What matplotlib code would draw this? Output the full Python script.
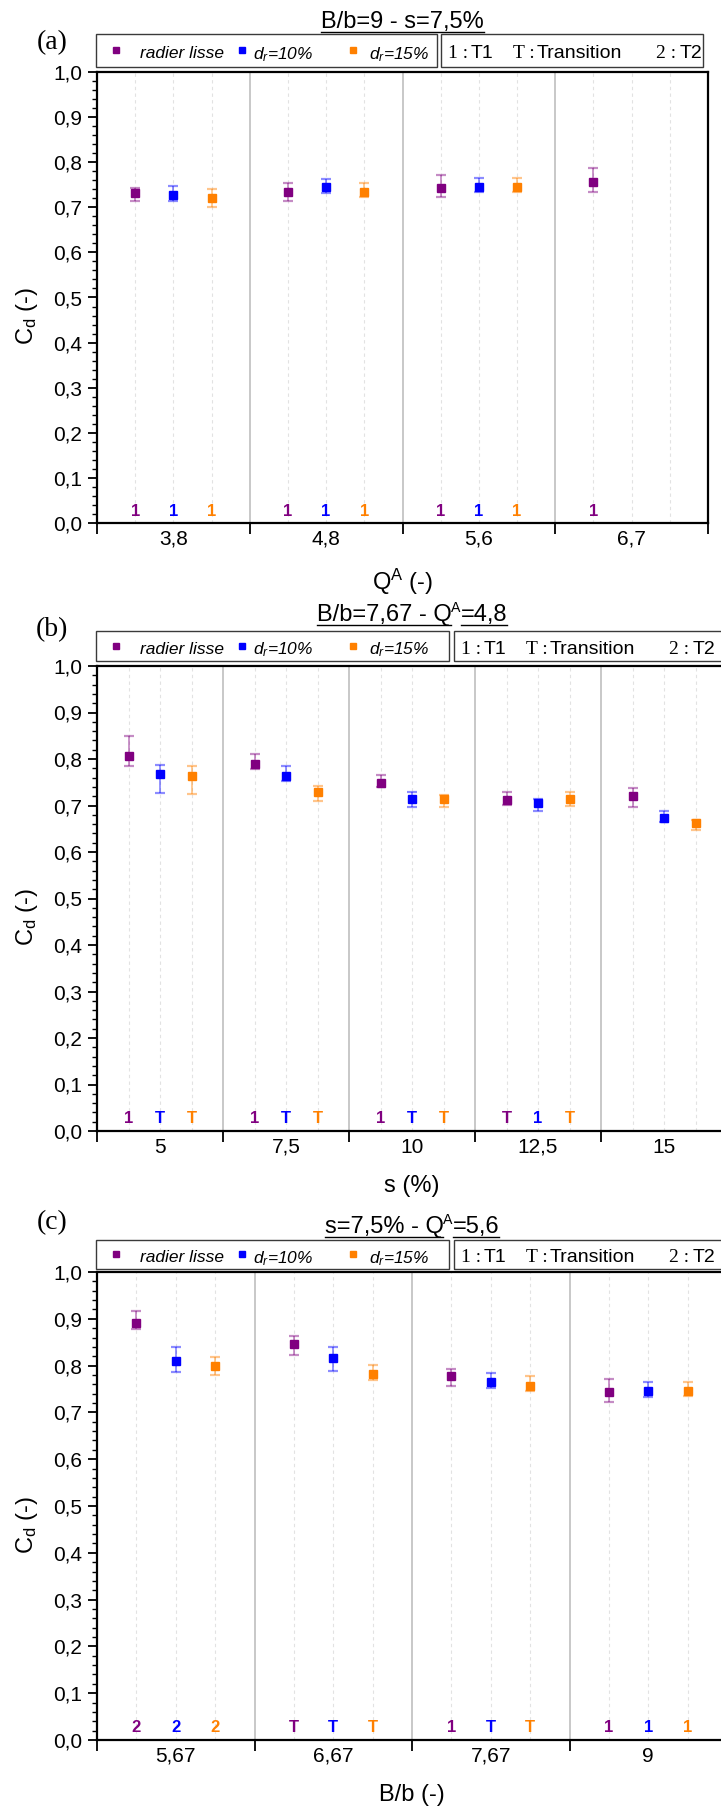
import matplotlib

matplotlib.use("Agg")
import matplotlib.pyplot as plt
import matplotlib.transforms as mtrans
import numpy as np
from matplotlib.colors import to_rgba
from matplotlib.lines import Line2D
from matplotlib.patches import Rectangle
from matplotlib.ticker import FuncFormatter, MultipleLocator

W, H = 721, 1807

SANS = ["Liberation Sans", "DejaVu Sans"]
SERIF = ["Liberation Serif", "DejaVu Serif"]
plt.rcParams["font.family"] = SANS
plt.rcParams["mathtext.fontset"] = "custom"
plt.rcParams["mathtext.rm"] = "Liberation Sans"
plt.rcParams["mathtext.it"] = "Liberation Sans:italic"

PURPLE = "#800080"
BLUE = "#0000ff"
ORANGE = "#ff8000"
DOTTED = "#e2e2e2"
BOUNDARY = "#c4c4c4"
BOX_EDGE = "#3a3a3a"

SERIES_NAMES = ["radier lisse", "$d_r$=10%", "$d_r$=15%"]
SERIES_COLORS = [PURPLE, BLUE, ORANGE]
OFFSETS = [-0.25, 0.0, 0.25]

# (a) B/b=9 - s=7,5%
A_CATEGORIES = ["3,8", "4,8", "5,6", "6,7"]
A_SMOOTH_CD = [0.732, 0.735, 0.742, 0.755]
A_SMOOTH_LO = [0.713, 0.714, 0.722, 0.734]
A_SMOOTH_HI = [0.742, 0.754, 0.771, 0.787]
A_SMOOTH_REGIME = ["1", "1", "1", "1"]
A_D10_CD = [0.728, 0.744, 0.744, np.nan]
A_D10_LO = [0.713, 0.732, 0.733, np.nan]
A_D10_HI = [0.747, 0.763, 0.765, np.nan]
A_D10_REGIME = ["1", "1", "1", ""]
A_D15_CD = [0.721, 0.733, 0.744, np.nan]
A_D15_LO = [0.701, 0.722, 0.734, np.nan]
A_D15_HI = [0.741, 0.753, 0.765, np.nan]
A_D15_REGIME = ["1", "1", "1", ""]

# (b) B/b=7,67 - QA=4,8
B_CATEGORIES = ["5", "7,5", "10", "12,5", "15"]
B_SMOOTH_CD = [0.807, 0.789, 0.749, 0.712, 0.721]
B_SMOOTH_LO = [0.786, 0.778, 0.740, 0.702, 0.697]
B_SMOOTH_HI = [0.849, 0.810, 0.766, 0.728, 0.738]
B_SMOOTH_REGIME = ["1", "1", "1", "T", ""]
B_D10_CD = [0.767, 0.764, 0.713, 0.706, 0.673]
B_D10_LO = [0.726, 0.752, 0.696, 0.689, 0.664]
B_D10_HI = [0.788, 0.786, 0.730, 0.714, 0.688]
B_D10_REGIME = ["T", "T", "T", "1", ""]
B_D15_CD = [0.764, 0.729, 0.714, 0.713, 0.662]
B_D15_LO = [0.725, 0.710, 0.696, 0.699, 0.648]
B_D15_HI = [0.786, 0.741, 0.722, 0.729, 0.669]
B_D15_REGIME = ["T", "T", "T", "T", ""]

# (c) s=7,5% - QA=5,6
C_CATEGORIES = ["5,67", "6,67", "7,67", "9"]
C_SMOOTH_CD = [0.891, 0.846, 0.777, 0.743]
C_SMOOTH_LO = [0.878, 0.823, 0.756, 0.722]
C_SMOOTH_HI = [0.916, 0.864, 0.792, 0.771]
C_SMOOTH_REGIME = ["2", "T", "1", "1"]
C_D10_CD = [0.809, 0.817, 0.764, 0.745]
C_D10_LO = [0.787, 0.789, 0.753, 0.733]
C_D10_HI = [0.839, 0.840, 0.785, 0.766]
C_D10_REGIME = ["2", "T", "T", "1"]
C_D15_CD = [0.800, 0.781, 0.756, 0.745]
C_D15_LO = [0.779, 0.770, 0.745, 0.734]
C_D15_HI = [0.819, 0.802, 0.777, 0.766]
C_D15_REGIME = ["2", "T", "T", "1"]

IDENT = mtrans.IdentityTransform()


def px_axes(fig, left, top, right, bottom):
    return fig.add_axes(
        [left / W, 1 - bottom / H, (right - left) / W, (bottom - top) / H]
    )


def comma(v, pos):
    return f"{v:.1f}".replace(".", ",")


def plot_panel(ax, categories, series, xlabel):
    n = len(categories)
    xc = np.arange(n)

    for off in OFFSETS:
        for x in xc + off:
            ax.axvline(x, color=DOTTED, lw=0.8, ls=(0, (3, 3)), zorder=0)
    for b in np.arange(1, n) - 0.5:
        ax.axvline(b, color=BOUNDARY, lw=1.3, zorder=0.5)

    for off, color, (cd, lo, hi, regime) in zip(OFFSETS, SERIES_COLORS, series):
        cd, lo, hi = np.array(cd), np.array(lo), np.array(hi)
        xs = xc + off
        ax.errorbar(
            xs,
            cd,
            yerr=[cd - lo, hi - cd],
            fmt="s",
            ms=5.3,
            color=color,
            ecolor=to_rgba(color, 0.45),
            elinewidth=1.3,
            capsize=3.8,
            capthick=1.6,
            zorder=3,
        )
        for x, r in zip(xs, regime):
            if r:
                ax.text(
                    x, 0.026, r, color=color, ha="center", va="center",
                    fontsize=12, fontweight="bold", zorder=3,
                )

    ax.set_xlim(-0.5, n - 0.5)
    ax.set_ylim(0, 1)

    ax.set_xticks(np.arange(n + 1) - 0.5)
    ax.set_xticklabels([])
    ax.set_xticks(xc, minor=True)
    ax.set_xticklabels(categories, minor=True)
    ax.tick_params(axis="x", which="major", length=8, width=1.3, direction="out")
    ax.tick_params(axis="x", which="minor", length=0, pad=5, labelsize=15)

    ax.yaxis.set_major_locator(MultipleLocator(0.1))
    ax.yaxis.set_minor_locator(MultipleLocator(0.02))
    ax.yaxis.set_major_formatter(FuncFormatter(comma))
    ax.tick_params(axis="y", which="major", length=6.5, width=1.3, pad=4, labelsize=15)
    ax.tick_params(axis="y", which="minor", length=3.5, width=1.0)

    for spine in ax.spines.values():
        spine.set_linewidth(1.6)

    bbox = ax.get_position()
    ax_w = bbox.width * W
    ax_h = bbox.height * H
    ax.set_xlabel(xlabel, fontsize=17)
    ax.xaxis.set_label_coords(0.5, -44 / ax_h)
    ax.set_ylabel("C$_{\\mathrm{d}}$ (-)", fontsize=17)
    ax.yaxis.set_label_coords(-57 / ax_w, 0.46)


def underlined_title(fig, cx, cy, parts, size=17):
    renderer = fig.canvas.get_renderer()
    cap = 0.716 * size * 100 / 72
    base = H - (cy + cap / 2)
    texts = []
    for s, sup in parts:
        fs = size * 0.6 if sup else size
        y = base + cap * 0.55 if sup else base
        t = fig.text(0, y, s, fontsize=fs, ha="left", va="baseline", transform=IDENT)
        texts.append((t, sup))
    widths = [t.get_window_extent(renderer).width for t, _ in texts]
    x = cx - sum(widths) / 2
    for (t, sup), w in zip(texts, widths):
        t.set_x(x)
        if not sup:
            fig.add_artist(
                Line2D([x, x + w], [base - 3.5] * 2, color="black", lw=1.0, transform=IDENT)
            )
        x += w


def draw_legend(fig, top, bottom, box1, box2):
    for x0, x1 in (box1, box2):
        fig.add_artist(
            Rectangle(
                (x0, H - bottom), x1 - x0, bottom - top, transform=IDENT,
                fill=False, ec=BOX_EDGE, lw=1.0,
            )
        )
    yc = H - ((top + bottom) / 2 + 1.5)
    for mx, tx, name, color in zip(
        [116, 242, 353], [140, 253, 369], SERIES_NAMES, SERIES_COLORS
    ):
        fig.add_artist(Line2D([mx], [yc + 2], marker="s", ms=3.8, color=color, transform=IDENT))
        fig.text(tx, yc, name, fontsize=12.5, style="italic", va="center_baseline", transform=IDENT)

    x0 = box2[0]
    for dx, s, fam in [
        (7, "1 :", SERIF), (30, "T1", SANS),
        (72, "T :", SERIF), (96, "Transition", SANS),
        (215, "2 :", SERIF), (239, "T2", SANS),
    ]:
        fig.text(x0 + dx, yc, s, fontsize=14, family=fam, va="center_baseline", transform=IDENT)


def main():
    fig = plt.figure(figsize=(W / 100, H / 100), dpi=100)

    panels = [
        dict(
            letter="(a)", letter_y=43,
            title=[("B/b=9 - s=7,5%", False)], title_y=20,
            legend=(34, 67, (96, 437), (441, 703)),
            rect=(97, 72, 708, 523),
            categories=A_CATEGORIES,
            series=[
                (A_SMOOTH_CD, A_SMOOTH_LO, A_SMOOTH_HI, A_SMOOTH_REGIME),
                (A_D10_CD, A_D10_LO, A_D10_HI, A_D10_REGIME),
                (A_D15_CD, A_D15_LO, A_D15_HI, A_D15_REGIME),
            ],
            xlabel="Q$^{\\mathrm{A}}$ (-)",
        ),
        dict(
            letter="(b)", letter_y=630,
            title=[("B/b=7,67 - Q", False), ("A", True), ("=4,8", False)], title_y=613,
            legend=(631, 661, (96, 449), (454, 740)),
            rect=(97, 666, 727, 1131),
            categories=B_CATEGORIES,
            series=[
                (B_SMOOTH_CD, B_SMOOTH_LO, B_SMOOTH_HI, B_SMOOTH_REGIME),
                (B_D10_CD, B_D10_LO, B_D10_HI, B_D10_REGIME),
                (B_D15_CD, B_D15_LO, B_D15_HI, B_D15_REGIME),
            ],
            xlabel="s (%)",
        ),
        dict(
            letter="(c)", letter_y=1223,
            title=[("s=7,5% - Q", False), ("A", True), ("=5,6", False)], title_y=1225,
            legend=(1240, 1269, (96, 449), (454, 740)),
            rect=(97, 1272, 727, 1740),
            categories=C_CATEGORIES,
            series=[
                (C_SMOOTH_CD, C_SMOOTH_LO, C_SMOOTH_HI, C_SMOOTH_REGIME),
                (C_D10_CD, C_D10_LO, C_D10_HI, C_D10_REGIME),
                (C_D15_CD, C_D15_LO, C_D15_HI, C_D15_REGIME),
            ],
            xlabel="B/b (-)",
        ),
    ]

    for p in panels:
        ax = px_axes(fig, *p["rect"])
        plot_panel(ax, p["categories"], p["series"], p["xlabel"])
        left, _, right, _ = p["rect"]
        underlined_title(fig, (left + right) / 2, p["title_y"], p["title"])
        draw_legend(fig, *p["legend"])
        fig.text(52 / W, 1 - p["letter_y"] / H, p["letter"], family=SERIF,
                 fontsize=20, ha="center", va="center")

    fig.savefig("out.png", dpi=100)


if __name__ == "__main__":
    main()
